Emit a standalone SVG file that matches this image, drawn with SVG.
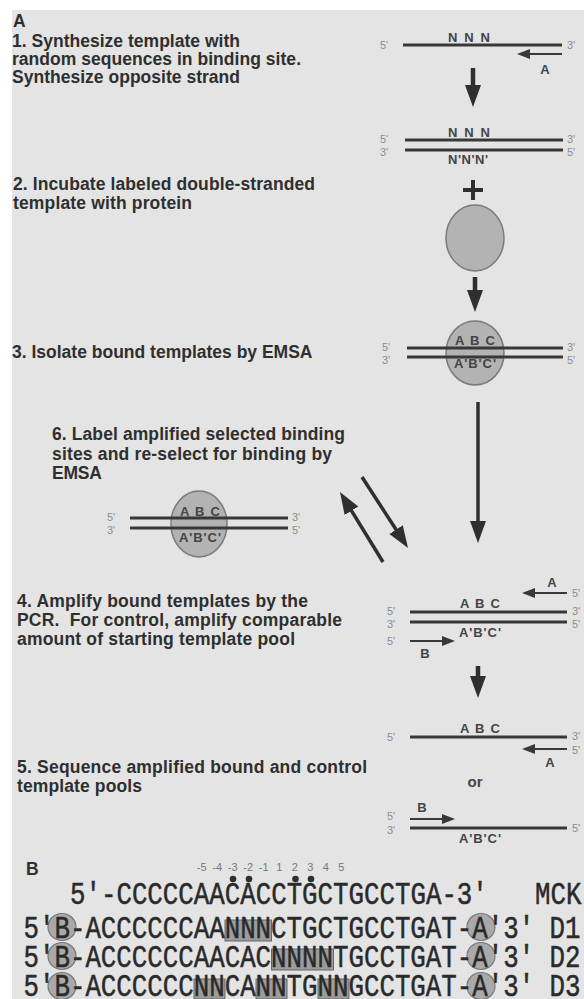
<svg xmlns="http://www.w3.org/2000/svg" width="584" height="999" viewBox="0 0 584 999">
<defs>
<style>
.t{font-family:"Liberation Sans",Arial,sans-serif;font-weight:bold;font-size:17.5px;fill:#2f2f2f}
.lb{font-family:"Liberation Sans",Arial,sans-serif;font-size:11px;fill:#8c8c8c}
.sq{font-family:"Liberation Sans",Arial,sans-serif;font-weight:bold;font-size:13px;fill:#444;text-anchor:middle}
.dna{stroke:#383838;stroke-width:3;fill:none}
.prot{fill:#b3b3b3;stroke:#7a7a7a;stroke-width:1.5}
.pr{stroke:#383838;stroke-width:2;fill:none;marker-end:url(#ph)}
.big{stroke:#2f2f2f;fill:none;marker-end:url(#ah)}
.mono{font-family:"Liberation Mono","Courier New",monospace;font-size:25.8px;fill:#2a2a2a;stroke:#2a2a2a;stroke-width:0.4}
.num{font-family:"Liberation Sans",Arial,sans-serif;font-size:11px;fill:#777;text-anchor:middle}
.box{fill:#9c9c9c;stroke:#666;stroke-width:1}
.circ{fill:#a9a9a9;stroke:#777;stroke-width:1.2}
</style>
<marker id="ah" markerUnits="userSpaceOnUse" markerWidth="24" markerHeight="18" refX="8" refY="9" orient="auto"><path d="M0,1 L22,9 L0,17 z" fill="#2f2f2f"/></marker>
<marker id="ph" markerUnits="userSpaceOnUse" markerWidth="14" markerHeight="10" refX="5" refY="5" orient="auto"><path d="M0,0 L13,5 L0,10 z" fill="#383838"/></marker>
</defs>
<rect x="0" y="0" width="584" height="999" fill="#ffffff"/>
<rect x="12" y="10" width="572" height="989" fill="#e4e4e4"/>

<g id="label-A"><text class="t" x="13" y="27">A</text></g>

<g id="step1-text">
<text class="t" x="12" y="47" textLength="228">1. Synthesize template with</text>
<text class="t" x="12" y="65" textLength="289">random sequences in binding site.</text>
<text class="t" x="12" y="83" textLength="228">Synthesize opposite strand</text>
</g>
<g id="step1-template">
<line class="dna" x1="403" y1="45" x2="562" y2="45"/>
<text class="sq" x="469" y="42" textLength="42">N N N</text>
<text class="lb" x="380" y="49">5'</text>
<text class="lb" x="567" y="49">3'</text>
<line class="pr" x1="562" y1="54" x2="525" y2="54"/>
<text class="sq" x="545" y="74">A</text>
</g>
<g id="step1-duplex">
<line class="dna" x1="405" y1="140" x2="563" y2="140"/>
<line class="dna" x1="405" y1="150" x2="563" y2="150"/>
<text class="sq" x="469" y="137" textLength="42">N N N</text>
<text class="sq" x="468" y="164" textLength="40">N'N'N'</text>
<text class="lb" x="380" y="143">5'</text>
<text class="lb" x="380" y="156">3'</text>
<text class="lb" x="567" y="143">3'</text>
<text class="lb" x="567" y="156">5'</text>
</g>
<g id="plus"><path d="M463,190 H483 M473,180 V200" stroke="#2f2f2f" stroke-width="4" fill="none"/></g>

<g id="step2-text">
<text class="t" x="13" y="190" textLength="302">2. Incubate labeled double-stranded</text>
<text class="t" x="13" y="209" textLength="179">template with protein</text>
</g>
<g id="protein"><ellipse class="prot" cx="475" cy="238" rx="29" ry="33"/></g>

<g id="step3-complex">
<ellipse class="prot" cx="475" cy="353" rx="29" ry="32"/>
<line class="dna" x1="407" y1="348" x2="563" y2="348"/>
<line class="dna" x1="407" y1="357" x2="563" y2="357"/>
<text class="sq" x="475" y="345" textLength="40">A B C</text>
<text class="sq" x="475" y="368" textLength="42">A'B'C'</text>
<text class="lb" x="382" y="351">5'</text>
<text class="lb" x="382" y="364">3'</text>
<text class="lb" x="567" y="351">3'</text>
<text class="lb" x="567" y="364">5'</text>
</g>
<g id="step3-text"><text class="t" x="12" y="358">3. Isolate bound templates by EMSA</text></g>

<g id="step6-text">
<text class="t" x="52" y="440" textLength="293">6. Label amplified selected binding</text>
<text class="t" x="52" y="460" textLength="280">sites and re-select for binding by</text>
<text class="t" x="52" y="479" textLength="50">EMSA</text>
</g>
<g id="step6-complex">
<ellipse class="prot" cx="199" cy="524" rx="28" ry="33"/>
<line class="dna" x1="130" y1="518" x2="288" y2="518"/>
<line class="dna" x1="130" y1="528" x2="288" y2="528"/>
<text class="sq" x="200" y="516" textLength="40">A B C</text>
<text class="sq" x="200" y="542" textLength="42">A'B'C'</text>
<text class="lb" x="107" y="521">5'</text>
<text class="lb" x="107" y="534">3'</text>
<text class="lb" x="292" y="521">3'</text>
<text class="lb" x="292" y="534">5'</text>
</g>

<g id="step4-text">
<text class="t" x="17" y="607" textLength="291">4. Amplify bound templates by the</text>
<text class="t" x="17" y="626" textLength="325" xml:space="preserve">PCR.  For control, amplify comparable</text>
<text class="t" x="17" y="645" textLength="278">amount of starting template pool</text>
</g>
<g id="step4-pcr">
<text class="sq" x="552" y="587">A</text>
<line class="pr" x1="567" y1="593" x2="530" y2="593"/>
<text class="lb" x="572" y="597">5'</text>
<line class="dna" x1="410" y1="612" x2="567" y2="612"/>
<line class="dna" x1="410" y1="622" x2="567" y2="622"/>
<text class="sq" x="480" y="608" textLength="40">A B C</text>
<text class="sq" x="480" y="637" textLength="42">A'B'C'</text>
<text class="lb" x="387" y="615">5'</text>
<text class="lb" x="387" y="628">3'</text>
<text class="lb" x="387" y="645">5'</text>
<text class="lb" x="572" y="615">3'</text>
<text class="lb" x="572" y="628">5'</text>
<line class="pr" x1="410" y1="641" x2="447" y2="641"/>
<text class="sq" x="425" y="658">B</text>
</g>

<g id="step5-text">
<text class="t" x="17" y="773" textLength="350">5. Sequence amplified bound and control</text>
<text class="t" x="17" y="792" textLength="125">template pools</text>
</g>
<g id="step5-sequencing">
<line class="dna" x1="410" y1="737" x2="567" y2="737"/>
<text class="sq" x="480" y="733" textLength="40">A B C</text>
<text class="lb" x="387" y="741">5'</text>
<text class="lb" x="572" y="740">3'</text>
<line class="pr" x1="567" y1="749" x2="530" y2="749"/>
<text class="lb" x="572" y="754">5'</text>
<text class="sq" x="550" y="767">A</text>
<text class="sq" x="475" y="787" style="font-size:15px">or</text>
<text class="sq" x="422" y="812">B</text>
<line class="pr" x1="410" y1="819" x2="447" y2="819"/>
<line class="dna" x1="410" y1="828" x2="567" y2="828"/>
<text class="lb" x="387" y="820">5'</text>
<text class="lb" x="387" y="834">3'</text>
<text class="lb" x="572" y="832">5'</text>
<text class="sq" x="480" y="843" textLength="42">A'B'C'</text>
</g>

<g id="connectors">
<line class="big" x1="473" y1="68" x2="473" y2="93" stroke-width="4.5"/>
<line class="big" x1="475" y1="277" x2="475" y2="298" stroke-width="4.5"/>
<line class="big" x1="478" y1="402" x2="478" y2="529" stroke-width="3.5"/>
<line class="big" x1="383" y1="562" x2="347.3" y2="503.9" stroke-width="3.5"/>
<line class="big" x1="362" y1="477" x2="400.4" y2="536.3" stroke-width="3.5"/>
<line class="big" x1="478" y1="666" x2="478" y2="684" stroke-width="4.5"/>
</g>

<g id="panel-B">
<text class="t" x="26" y="875">B</text>
<text class="num" x="201.75" y="871">-5</text>
<text class="num" x="217.25" y="871">-4</text>
<text class="num" x="232.75" y="871">-3</text>
<text class="num" x="248.25" y="871">-2</text>
<text class="num" x="263.75" y="871">-1</text>
<text class="num" x="279.25" y="871">1</text>
<text class="num" x="294.75" y="871">2</text>
<text class="num" x="310.25" y="871">3</text>
<text class="num" x="325.75" y="871">4</text>
<text class="num" x="341.25" y="871">5</text>
<circle cx="233" cy="879" r="3.3" fill="#2f2f2f"/>
<circle cx="249" cy="879" r="3.3" fill="#2f2f2f"/>
<circle cx="295.5" cy="879" r="3.3" fill="#2f2f2f"/>
<circle cx="311" cy="879" r="3.3" fill="#2f2f2f"/>
</g>
<g id="row-MCK">
<text class="mono" transform="translate(70 904) scale(1 1.25)" x="0" y="0">5'-CCCCCAACACCTGCTGCCTGA-3'</text>
<text class="mono" transform="translate(535 904) scale(1 1.25)" x="0" y="0">MCK</text>
</g>
<g id="row-D1">
<rect class="box" x="225" y="920" width="46.5" height="21"/>
<ellipse class="circ" cx="62" cy="927" rx="14" ry="13.5"/>
<ellipse class="circ" cx="481" cy="927" rx="14" ry="13.5"/>
<text class="mono" transform="translate(23.5 938) scale(1 1.25)" x="0" y="0">5'B-ACCCCCCAANNNCTGCTGCCTGAT-A'3' D1</text>
</g>
<g id="row-D2">
<rect class="box" x="271.5" y="949" width="62" height="21"/>
<ellipse class="circ" cx="62" cy="956" rx="14" ry="13.5"/>
<ellipse class="circ" cx="481" cy="956" rx="14" ry="13.5"/>
<text class="mono" transform="translate(23.5 967) scale(1 1.25)" x="0" y="0">5'B-ACCCCCCAACACNNNNTGCCTGAT-A'3' D2</text>
</g>
<g id="row-D3">
<rect class="box" x="194" y="979" width="31" height="20"/>
<rect class="box" x="256" y="979" width="31" height="20"/>
<rect class="box" x="318" y="979" width="31" height="20"/>
<ellipse class="circ" cx="62" cy="986" rx="14" ry="13.5"/>
<ellipse class="circ" cx="481" cy="986" rx="14" ry="13.5"/>
<text class="mono" transform="translate(23.5 996) scale(1 1.25)" x="0" y="0">5'B-ACCCCCCNNCANNTGNNGCCTGAT-A'3' D3</text>
</g>
</svg>
